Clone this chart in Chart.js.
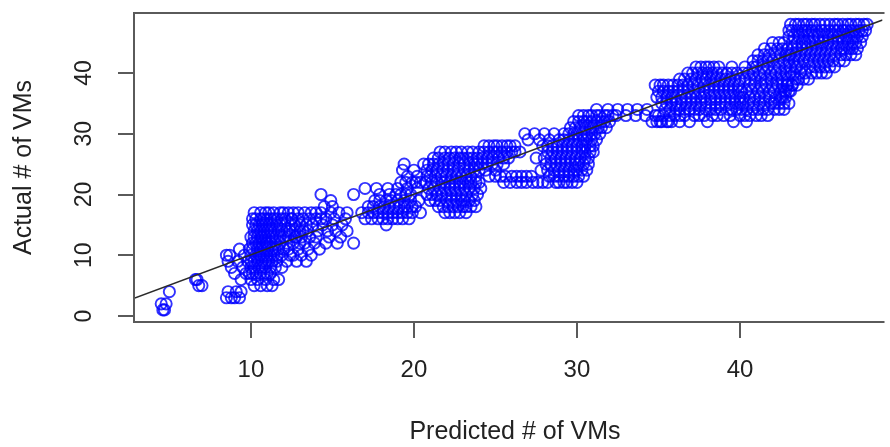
<!DOCTYPE html>
<html>
<head>
<meta charset="utf-8">
<script src="https://cdn.jsdelivr.net/npm/chart.js@4"></script>
<style>
  html, body { margin: 0; padding: 0; background: #fff; }
  #wrap { width: 890px; height: 447px; }
</style>
</head>
<body>
<div id="wrap"><canvas id="chart" width="890" height="447"></canvas></div>
<script>
// axis ticks and titles
const xTicks = [10, 20, 30, 40];
const yTicks = [0, 10, 20, 30, 40];
const xTitle = 'Predicted # of VMs';
const yTitle = 'Actual # of VMs';

// fitted line, read at the plot edges
const fitX = [2.83, 48.74];
const fitY = [2.91, 48.72];

// [predicted, actual], grouped by region
const lowPoints = [[4.5,2],[4.6,1],[4.8,2],[4.7,1],[5.0,4],[6.6,6],[6.8,5],[7.0,5],[6.7,6],
  [8.5,3],[8.6,4],[8.8,3],[9.0,3],[9.3,3],[9.4,4],[9.1,4],[8.5,10],[8.6,9],[8.8,8],[9.0,7],
  [9.2,9],[9.4,6],[9.5,8],[9.6,10],[9.7,7],[9.3,11],[8.7,10]];

const tenToThirteen = [[10.2,5],[10.6,5],[11.0,5],[11.3,5],
  [10.0,6],[10.4,6],[10.9,6],[11.4,6],[11.7,6],
  [9.9,7],[10.3,7],[10.8,7],[11.2,7],
  [10.0,8],[10.5,8],[10.9,8],[11.5,8],[11.9,8],
  [9.8,9],[10.2,9],[10.7,9],[11.1,9],[11.6,9],[12.2,9],
  [10.0,10],[10.3,10],[10.6,10],[11.0,10],[11.4,10],[11.9,10],[12.4,10],
  [9.9,11],[10.4,11],[10.8,11],[11.3,11],[11.7,11],[12.3,11],
  [10.1,12],[10.5,12],[10.9,12],[11.2,12],[11.8,12],[12.6,12],[13.0,12],
  [10.0,13],[10.4,13],[10.7,13],[11.1,13],[11.5,13],[12.0,13],[12.7,13],
  [10.2,14],[10.6,14],[11.0,14],[11.4,14],[11.9,14],[12.4,14],[13.2,14],
  [10.1,15],[10.5,15],[10.9,15],[11.3,15],[11.8,15],[12.5,15],
  [10.3,16],[10.8,16],[11.2,16],[11.6,16],[12.1,16],[12.9,16],
  [10.2,17],[10.9,17],[11.4,17],[11.8,17],[12.3,17]];

const tenToThirteenDense = [[10.6,17],[11.1,17],[12.0,17],[12.6,17],[13.3,17],[14.0,17],
  [10.1,16],[10.6,16],[11.0,16],[11.4,16],[11.9,16],[12.5,16],[13.6,16],[14.3,16],
  [10.3,15],[10.7,15],[11.1,15],[11.6,15],[12.1,15],[13.0,15],
  [10.4,14],[10.8,14],[11.2,14],[11.7,14],[12.2,14],[12.7,14],
  [10.2,13],[10.6,13],[10.9,13],[11.3,13],[11.8,13],[12.3,13],[13.1,13],
  [10.3,12],[10.7,12],[11.0,12],[11.5,12],[12.2,12],
  [10.1,11],[10.6,11],[11.0,11],[11.5,11],[12.0,11],
  [10.5,10],[10.8,10],[11.2,10],[11.6,10],
  [10.0,9],[10.4,9],[10.9,9],[11.3,9],
  [10.2,8],[10.7,8],[11.2,8],[10.1,7],[10.6,7],[11.0,7]];

const thirteenToSixteen = [[12.8,9],[13.4,9],[12.6,10],[13.1,10],[13.7,10],[12.9,11],[13.5,11],[14.2,11],
  [13.3,12],[13.9,12],[14.6,12],[15.3,12],[16.3,12],
  [12.8,13],[13.6,13],[14.0,13],[14.8,13],[15.5,13],
  [13.0,14],[13.5,14],[14.1,14],[14.7,14],[15.2,14],[15.9,14],
  [12.7,15],[13.4,15],[13.8,15],[14.4,15],[15.0,15],[15.6,15],
  [12.5,16],[13.2,16],[14.0,16],[14.6,16],[15.1,16],[15.8,16],
  [12.9,17],[13.7,17],[14.3,17],[14.9,17],[15.4,17],[15.9,17],
  [14.5,18],[15.0,18],[14.9,19],[14.3,20]];

const seventeenToTwenty = [[17.0,21],[17.7,21],[16.3,20],[18.9,20],[19.5,20],
  [17.6,19],[18.3,19],[19.0,19],[19.8,19],[20.3,19],
  [17.2,18],[17.9,18],[18.5,18],[19.1,18],[19.6,18],[20.1,18],
  [16.8,17],[17.5,17],[18.1,17],[18.7,17],[19.3,17],[19.9,17],[20.4,17],
  [17.0,16],[17.8,16],[18.4,16],[19.0,16],[19.7,16],[18.3,15],
  [19.2,22],[19.9,22],[20.4,22],[19.6,23],[20.2,23],[19.3,24],[20.0,24],[19.4,25],[20.6,25]];

const seventeenToTwentyDense = [[19.5,22],[20.1,22],
  [18.4,21],[19.0,21],[19.6,21],[20.2,21],
  [17.9,20],[18.5,20],[19.2,20],[19.8,20],
  [17.9,19],[18.6,19],[19.4,19],
  [17.5,18],[18.2,18],[18.8,18],[19.4,18],[19.9,18],
  [17.2,17],[17.8,17],[18.4,17],[19.0,17],[19.6,17],
  [17.4,16],[18.1,16],[18.7,16],[19.3,16]];

const twentyOneToTwentyFour = [[21.6,27],[22.3,27],[22.9,27],[23.3,27],
  [21.2,26],[21.9,26],[22.5,26],[23.0,26],[23.6,26],
  [20.9,25],[21.5,25],[22.1,25],[22.8,25],[23.4,25],[23.9,25],
  [21.1,24],[21.8,24],[22.4,24],[23.1,24],[23.7,24],
  [20.8,23],[21.3,23],[22.0,23],[22.6,23],[23.2,23],[23.8,23],
  [20.7,22],[21.4,22],[21.9,22],[22.5,22],[23.0,22],[23.5,22],[24.0,22],
  [20.9,21],[21.6,21],[22.2,21],[22.8,21],[23.4,21],[24.1,21],
  [21.1,20],[21.7,20],[22.3,20],[22.9,20],[23.6,20],
  [21.3,19],[22.0,19],[22.6,19],[23.1,19],[23.7,19],
  [21.8,18],[22.4,18],[23.0,18],[23.5,18],
  [22.2,17],[22.8,17],[23.2,17]];

const twentyOneToTwentyFourDense = [[21.9,27],[22.6,27],[23.6,27],[24.0,27],
  [21.5,26],[22.2,26],[22.8,26],[23.3,26],[23.9,26],
  [21.2,25],[21.8,25],[22.4,25],[23.1,25],[23.7,25],
  [20.8,24],[21.4,24],[22.1,24],[22.7,24],[23.4,24],[24.0,24],
  [21.0,23],[21.7,23],[22.3,23],[22.9,23],[23.5,23],
  [21.1,22],[21.7,22],[22.2,22],[22.8,22],[23.3,22],[23.8,22],
  [21.2,21],[21.9,21],[22.5,21],[23.1,21],[23.7,21],
  [20.8,20],[21.4,20],[22.0,20],[22.6,20],[23.2,20],[23.9,20],
  [21.0,19],[21.6,19],[22.3,19],[22.9,19],[23.4,19],
  [21.5,18],[22.1,18],[22.7,18],[23.2,18],[23.8,18],
  [21.9,17],[22.5,17]];

const twentyFiveToTwentyEight = [[24.6,28],[25.1,28],[25.7,28],[26.2,28],
  [24.3,27],[24.9,27],[25.4,27],[26.0,27],[26.5,27],
  [24.5,26],[25.2,26],[25.8,26],[24.2,25],[24.8,25],[25.5,25],[24.4,24],[25.0,24],
  [24.6,23],[25.3,23],[26.0,23],[26.6,23],[27.2,23],
  [25.5,22],[26.3,22],[26.9,22],[27.6,22],[28.2,22],[28.7,22],
  [24.3,28],[24.9,28],[25.4,28],[25.9,28],[24.6,27],[25.1,27],[25.7,27],[26.2,27],
  [24.2,26],[24.8,26],[25.5,26],[24.5,25],[25.1,25],
  [25.0,23],[25.6,23],[26.3,23],[26.9,23],[25.9,22],[26.6,22],[27.3,22],[27.9,22]];

const twentyEightToThirtyTwo = [[26.8,30],[27.4,30],[28.0,30],[28.6,30],
  [27.0,29],[27.7,29],[28.3,29],[28.9,29],
  [27.9,28],[28.5,28],[29.1,28],
  [28.2,27],[28.8,27],[29.4,27],[30.0,27],
  [27.5,26],[28.4,26],[29.0,26],[29.6,26],[30.2,26],
  [28.1,25],[28.7,25],[29.3,25],[29.9,25],[30.4,25],
  [27.8,24],[28.6,24],[29.2,24],[29.8,24],[30.3,24],
  [28.3,23],[28.9,23],[29.5,23],[30.1,23],[29.2,22],[29.7,22],
  [29.6,31],[30.2,31],[30.8,31],[31.3,31],[31.8,31],
  [29.8,32],[30.4,32],[30.9,32],[31.5,32],[32.0,32],
  [30.1,33],[30.7,33],[31.2,33],[31.7,33],[32.2,33],
  [29.5,30],[30.0,30],[30.6,30],[31.1,30],
  [29.8,29],[30.4,29],[30.9,29],[29.7,28],[30.3,28],[30.8,28],[30.5,27],[31.0,27],[30.7,26]];

const twentyEightToThirtyTwoDense = [[30.4,33],[30.9,33],[31.4,33],[31.9,33],
  [30.1,32],[30.6,32],[31.2,32],[31.7,32],
  [29.9,31],[30.5,31],[31.0,31],[31.5,31],
  [29.2,30],[29.8,30],[30.3,30],[30.9,30],[31.4,30],
  [29.2,29],[29.5,29],[30.1,29],[30.6,29],[31.2,29],
  [28.2,28],[28.8,28],[29.4,28],[30.0,28],[30.5,28],[31.0,28],
  [28.5,27],[29.1,27],[29.7,27],[30.3,27],[30.8,27],
  [28.0,26],[28.7,26],[29.3,26],[29.9,26],[30.5,26],
  [28.4,25],[29.0,25],[29.6,25],[30.1,25],[30.7,25],
  [28.2,24],[28.9,24],[29.5,24],[30.0,24],[30.6,24],
  [28.6,23],[29.2,23],[29.8,23],[30.4,23],[28.9,22],[29.4,22],[30.0,22]];

const thirtyTwoToThirtyFive = [[31.2,34],[31.9,34],[32.5,34],[33.1,34],[33.7,34],[34.3,34],
  [32.4,33],[33.0,33],[33.6,33],[34.2,33],[34.8,33],[34.6,32],[35.1,32],[35.6,32]];

const thirtyFiveToForty = [[34.8,38],[35.3,38],[35.9,38],[36.5,38],
  [35.0,37],[35.6,37],[36.2,37],[36.8,37],
  [34.9,36],[35.5,36],[36.0,36],[36.7,36],[37.3,36],
  [35.2,35],[35.8,35],[36.4,35],[37.0,35],[37.6,35],
  [35.4,34],[36.1,34],[36.6,34],[37.2,34],[37.9,34],[38.5,34],
  [35.0,33],[35.7,33],[36.3,33],[37.5,33],[38.3,33],[39.0,33],
  [34.9,32],[35.5,32],[36.9,32],
  [36.3,39],[37.0,39],[37.7,39],[38.2,39],
  [36.8,40],[37.4,40],[38.0,40],[38.6,40],
  [37.3,41],[37.9,41],[38.4,41],
  [38.2,35],[38.8,35],[39.4,35],[40.0,35],
  [37.8,36],[38.5,36],[39.1,36],[39.7,36],
  [37.5,37],[38.1,37],[38.7,37],[39.3,37],[39.9,37],
  [37.1,38],[37.8,38],[38.4,38],[39.0,38],[39.6,38],
  [38.8,39],[39.4,39],[40.0,39],[39.2,40],[39.8,40],[39.3,34],[39.8,34]];

const fortyToFortyThree = [[40.3,33],[41.0,33],[41.7,33],
  [40.1,34],[40.8,34],[41.4,34],[42.1,34],[42.7,34],
  [40.5,35],[41.2,35],[41.9,35],[42.4,35],[43.0,35],
  [40.2,36],[40.9,36],[41.5,36],[42.2,36],[42.8,36],
  [40.4,37],[41.1,37],[41.8,37],[42.5,37],[43.1,37],
  [40.6,38],[41.3,38],[42.0,38],[42.6,38],[43.2,38],
  [40.3,39],[40.9,39],[41.6,39],[42.3,39],[42.9,39],
  [40.5,40],[41.2,40],[41.9,40],[42.5,40],[43.1,40],
  [40.8,41],[41.4,41],[42.1,41],[42.8,41],[43.4,41],
  [41.1,42],[41.7,42],[42.4,42],[43.0,42],
  [41.5,43],[42.2,43],[42.8,43],[41.9,44],[42.6,44],[43.2,44],[42.4,45]];

const thirtyFiveToFortyThreeDense = [[37.6,41],[38.1,41],[38.7,41],[39.5,41],[40.3,41],[41.0,41],[41.7,41],[42.4,41],[43.1,41],
  [37.1,40],[37.7,40],[38.3,40],[38.9,40],[39.5,40],[40.2,40],[40.8,40],[41.5,40],[42.2,40],[42.8,40],
  [36.6,39],[37.3,39],[37.9,39],[38.5,39],[39.1,39],[39.7,39],[40.6,39],[41.3,39],[41.9,39],[42.6,39],
  [35.1,38],[35.6,38],[36.2,38],[36.8,38],[37.4,38],[38.1,38],[38.7,38],[39.3,38],[39.9,38],[40.9,38],[41.6,38],[42.3,38],[42.9,38],
  [35.3,37],[35.9,37],[36.5,37],[37.2,37],[37.8,37],[38.4,37],[39.0,37],[39.6,37],[40.1,37],[40.7,37],[41.4,37],[42.1,37],[42.8,37],
  [35.2,36],[35.8,36],[36.4,36],[37.0,36],[37.6,36],[38.2,36],[38.8,36],[39.4,36],[40.0,36],[40.6,36],[41.2,36],[41.8,36],[42.5,36],
  [35.5,35],[36.1,35],[36.7,35],[37.3,35],[37.9,35],[38.5,35],[39.1,35],[39.7,35],[40.2,35],[40.8,35],[41.5,35],[42.1,35],[42.7,35],
  [35.7,34],[36.3,34],[36.9,34],[37.5,34],[38.2,34],[38.8,34],[39.5,34],[40.4,34],[41.1,34],[41.7,34],[42.4,34],
  [35.3,33],[36.0,33],[36.6,33],[37.2,33],[37.8,33],[38.6,33],[39.4,33],[40.0,33],[40.6,33],[41.3,33],
  [35.2,32],[35.8,32],[36.3,32],[38.0,32],[39.6,32],[40.4,32],
  [40.8,42],[41.4,42],[42.0,42],[42.7,42],[41.1,43],[41.8,43],[42.5,43],[43.0,43],
  [41.5,44],[42.3,44],[42.9,44],[42.0,45],[42.7,45]];

const topPoints = [[43.1,48],[43.6,48],[44.1,48],[44.6,48],[45.2,48],[45.8,48],[46.3,48],[46.8,48],[47.3,48],[47.6,48],
  [43.0,47],[43.5,47],[44.0,47],[44.4,47],[45.5,47],[46.0,47],[46.5,47],[47.0,47],[47.5,47],
  [43.3,46],[43.9,46],[44.5,46],[45.1,46],[45.7,46],[46.2,46],[46.7,46],[47.2,46],
  [43.2,45],[43.8,45],[44.3,45],[44.9,45],[45.4,45],[46.0,45],[46.6,45],[47.1,45],
  [43.5,44],[44.1,44],[44.7,44],[45.3,44],[45.9,44],[46.4,44],[46.9,44],
  [43.4,43],[44.0,43],[44.6,43],[45.2,43],[45.8,43],[46.5,43],
  [43.6,42],[44.2,42],[44.8,42],[45.4,42],[46.1,42],
  [43.5,41],[44.3,41],[44.9,41],[45.5,41],
  [43.7,40],[44.4,40],[45.0,40],[43.4,39],[43.9,39],[43.2,38],[43.0,37],[42.6,36]];

const topPointsDense = [[43.4,48],[43.9,48],[44.4,48],[44.9,48],[45.5,48],[46.0,48],[46.6,48],[47.1,48],[47.8,48],
  [43.2,47],[43.8,47],[44.2,47],[44.7,47],[45.0,47],[45.2,47],[45.8,47],[46.3,47],[46.8,47],[47.3,47],[47.7,47],
  [43.0,46],[43.6,46],[44.2,46],[44.8,46],[45.4,46],[46.0,46],[46.5,46],[47.0,46],[47.5,46],
  [43.5,45],[44.0,45],[44.6,45],[45.1,45],[45.7,45],[46.3,45],[46.9,45],[47.4,45],
  [43.8,44],[44.4,44],[45.0,44],[45.6,44],[46.2,44],[46.7,44],[47.2,44],
  [43.1,43],[43.7,43],[44.3,43],[44.9,43],[45.5,43],[46.2,43],[46.8,43],[47.1,43],
  [43.3,42],[43.9,42],[44.5,42],[45.1,42],[45.7,42],[46.4,42],
  [43.8,41],[44.6,41],[45.2,41],[45.8,41],
  [43.3,40],[44.0,40],[44.7,40],[45.3,40],[43.6,39],[44.2,39],[42.9,38],[43.5,38],[42.7,37]];

const allPoints = [].concat(lowPoints, tenToThirteen, tenToThirteenDense, thirteenToSixteen,
  seventeenToTwenty, seventeenToTwentyDense, twentyOneToTwentyFour, twentyOneToTwentyFourDense,
  twentyFiveToTwentyEight, twentyEightToThirtyTwo, twentyEightToThirtyTwoDense,
  thirtyTwoToThirtyFive, thirtyFiveToForty, fortyToFortyThree, thirtyFiveToFortyThreeDense,
  topPoints, topPointsDense);

const FONT = '"Liberation Sans", Arial, Helvetica, sans-serif';
const TEXT = '#222';
const FRAME = '#5a5a5a';

// box, tick labels and axis titles in the R base-graphics manner
const rAxes = {
  id: 'rAxes',
  afterDraw(chart) {
    const ctx = chart.ctx;
    const a = chart.chartArea;
    const xs = chart.scales.x, ys = chart.scales.y;
    ctx.save();
    ctx.strokeStyle = FRAME;
    ctx.lineWidth = 2;
    ctx.beginPath();
    ctx.moveTo(a.right + 2, a.top);
    ctx.lineTo(a.left, a.top);
    ctx.lineTo(a.left, a.bottom);
    ctx.lineTo(a.right + 2, a.bottom);
    ctx.stroke();

    ctx.fillStyle = TEXT;
    ctx.textAlign = 'center';
    ctx.textBaseline = 'middle';
    ctx.font = '24px ' + FONT;
    xs.ticks.forEach(t => ctx.fillText(String(t.value), xs.getPixelForValue(t.value), 370));
    ctx.font = '23px ' + FONT;
    ys.ticks.forEach(t => {
      ctx.save();
      ctx.translate(85, ys.getPixelForValue(t.value));
      ctx.rotate(-Math.PI / 2);
      ctx.fillText(String(t.value), 0, 0);
      ctx.restore();
    });
    ctx.font = '25px ' + FONT;
    ctx.fillText(xTitle, 515, 432);
    ctx.save();
    ctx.translate(24, (a.top + a.bottom) / 2);
    ctx.rotate(-Math.PI / 2);
    ctx.fillText(yTitle, 0, 0);
    ctx.restore();
    ctx.restore();
  }
};

new Chart(document.getElementById('chart'), {
  type: 'scatter',
  data: {
    datasets: [{
      type: 'line',
      data: fitX.map((x, i) => ({ x: x, y: fitY[i] })),
      borderColor: '#2b2b2b',
      borderWidth: 1.6,
      pointRadius: 0,
      fill: false,
      order: 0
    }, {
      data: allPoints.map(p => ({ x: p[0], y: p[1] })),
      pointStyle: 'circle',
      pointRadius: 5.6,
      pointBorderWidth: 1.9,
      pointBorderColor: 'rgba(0, 0, 255, 0.8)',
      pointBackgroundColor: 'rgba(0, 0, 0, 0)',
      order: 1
    }]
  },
  options: {
    responsive: false,
    animation: false,
    devicePixelRatio: 1,
    layout: { padding: { top: 13, right: 0, left: 0, bottom: 0 } },
    plugins: { legend: { display: false }, tooltip: { enabled: false } },
    scales: {
      x: {
        type: 'linear',
        min: 2.83,
        max: 48.74,
        afterBuildTicks: s => { s.ticks = xTicks.map(v => ({ value: v })); },
        afterFit: s => { s.height = 125; },
        ticks: { display: false },
        border: { display: false },
        grid: { drawOnChartArea: false, drawTicks: true, tickLength: 16, color: FRAME, lineWidth: 2 }
      },
      y: {
        type: 'linear',
        min: -0.99,
        max: 49.88,
        afterBuildTicks: s => { s.ticks = yTicks.map(v => ({ value: v })); },
        afterFit: s => { s.width = 134; },
        ticks: { display: false },
        border: { display: false },
        grid: { drawOnChartArea: false, drawTicks: true, tickLength: 16, color: FRAME, lineWidth: 2 }
      }
    }
  },
  plugins: [rAxes]
});
</script>
</body>
</html>
